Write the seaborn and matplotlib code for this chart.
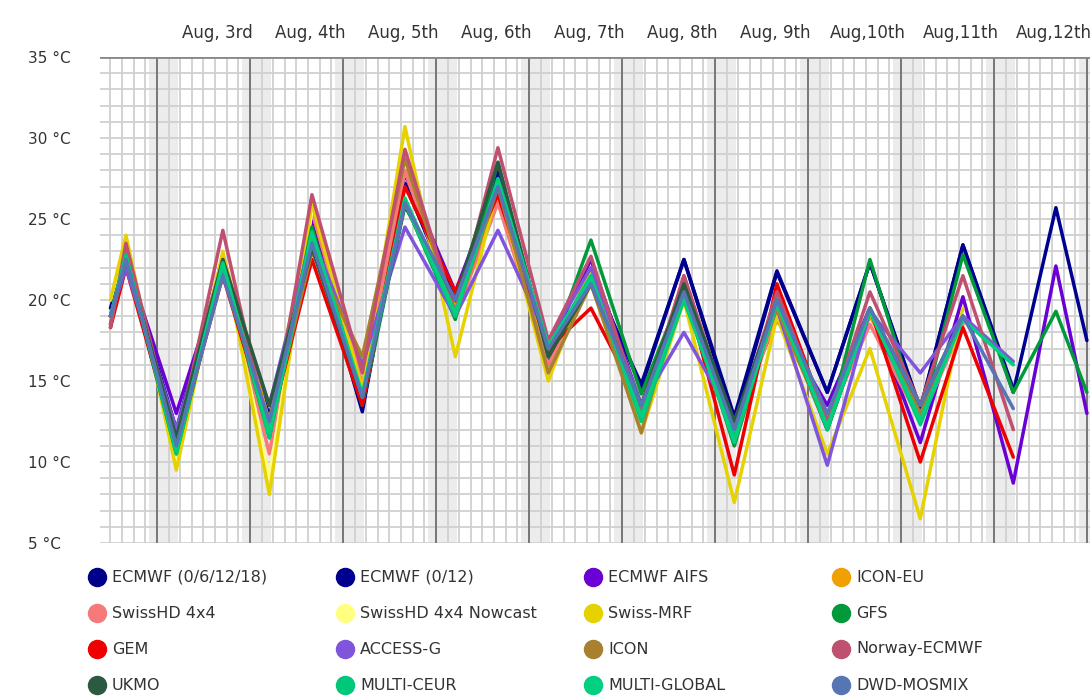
import numpy as np
import pandas as pd
import seaborn as sns
import matplotlib.pyplot as plt
from matplotlib.lines import Line2D

nan = np.nan
# hours relative to Aug 3rd 00:00
hours = [-12, -8, 5, 17, 29, 40, 53, 64, 77, 88, 101, 112, 125, 136, 149, 160, 173, 184, 197, 208, 221, 232, 240]

models = ["ECMWF (0/6/12/18)", "ECMWF (0/12)", "ECMWF AIFS", "ICON-EU",
          "SwissHD 4x4", "SwissHD 4x4 Nowcast", "Swiss-MRF", "GFS",
          "GEM", "ACCESS-G", "ICON", "Norway-ECMWF",
          "UKMO", "MULTI-CEUR", "MULTI-GLOBAL", "DWD-MOSMIX"]
colors = ["#00008b", "#000090", "#6a00d4", "#f0a000",
          "#f77a7a", "#ffff80", "#e6d200", "#009a3a",
          "#ee0000", "#8055dd", "#a88030", "#c05070",
          "#2a5a40", "#00c87a", "#00d080", "#5575b5"]

ecmwf_0_6_12_18 = [19.5, 22.5, 12, 22.5, 12.8, 24, 13.3, 27.2, 20, 27.8, 16.5, 21.5, 14.8, 22.5, 12.8, 21.8, 14.3, 22.3, 13.3, 23.4, 14.5, nan, nan]
ecmwf_0_12 = [19, 22.3, 11.8, 22.3, 12.5, 23.8, 13.1, 27.2, 19.8, 28, 16, 21.8, 14.6, 22.5, 12.5, 21.7, 14.3, 22.3, 13.2, 23.4, 14.3, 25.7, 17.5]
ecmwf_aifs = [19, 22.5, 13, 22, 11.8, 25, 14.5, 27.8, 20.5, 27.5, 17, 22.5, 13.5, 21, 12.5, 18.8, 13.5, 19.5, 11.2, 20.2, 8.7, 22.1, 13]
icon_eu = [18.3, 23, 11, 22.8, 12.5, 25.5, 14.5, 28, 19.5, 26.5, 16.5, 21.8, 13.5, 20, 12, 19, 12.5, 19, 13.5, 18.5, nan, nan, nan]
swisshd = [18.5, 22.5, 10.5, 22.5, 10.5, 25.5, 14.8, 28, 19, 26, 16, 21, 13, 20.5, 11, 19.5, 12.5, 18.5, 12.5, 18.5, nan, nan, nan]
swisshd_now = [20, 23.5, 10, 22.5, 9, 25.5, nan, nan, nan, nan, nan, nan, nan, nan, nan, nan, nan, nan, nan, nan, nan, nan, nan]
swiss_mrf = [20, 24, 9.5, 23, 8, 26, 14.5, 30.7, 16.5, 27, 15, 22, 11.8, 20, 7.5, 19, 10.5, 17, 6.5, 19.5, nan, nan, nan]
gfs = [18.5, 22.5, 10.5, 22, 11.5, 24.5, 13.5, 26, 18.8, 28.5, 16.5, 23.7, 14.2, 20.8, 11, 20, 12, 22.5, 12.5, 22.8, 14.3, 19.3, 14.3]
gem = [18.3, 22, 11, 21.5, 12, 22.5, 13.5, 27, 20.5, 26.5, 17, 19.5, 13.5, 21, 9.2, 21, 12.5, 19.5, 10, 18.3, 10.3, nan, nan]
access_g = [19, 22, 12, 22, 13.5, 24, 16, 24.5, 19, 24.3, 17.5, 22, 13.5, 18, 12.5, 19.5, 9.8, 19.3, 15.5, 19, 16.2, nan, nan]
icon = [18.5, 23, 11, 22.5, 12, 23, 16.5, 28.7, 19, 27, 15.5, 21, 11.8, 21.5, 12, 19.5, 12, 19.5, 13, 19, nan, nan, nan]
norway = [18.3, 23.5, 11, 24.3, 11.5, 26.5, 15.5, 29.3, 19.2, 29.4, 17.5, 22.7, 13, 21.5, 12, 20.5, 12.5, 20.5, 13.5, 21.5, 12, nan, nan]
ukmo = [19, 22.5, 11.5, 22.5, 13.5, 23.2, 14, 25.8, 20, 28.5, 16.5, 21, 13.5, 21, 12.5, 20, 12, 19.5, 13.5, 19, nan, nan, nan]
multi_ceur = [19, 22.8, 10.5, 22.3, 11.5, 24, 14, 26, 19, 27.5, 17, 21.5, 12.5, 20, 11.5, 20, 12, 19.5, 12.3, 19, nan, nan, nan]
multi_global = [19, 22.6, 10.8, 22.2, 11.8, 24.2, 14.2, 26.3, 19.2, 27.3, 17.2, 21.3, 12.8, 20.2, 11.2, 19.8, 12.2, 19.3, 12.6, 18.8, 16, nan, nan]
dwd_mosmix = [19, 22.5, 11, 21.5, 12.5, 23.5, 14, 26, 20, 27, 17, 21, 13.5, 20.5, 12, 20, 13, 19.5, 13.5, 19, 13.3, nan, nan]

series = [ecmwf_0_6_12_18, ecmwf_0_12, ecmwf_aifs, icon_eu, swisshd, swisshd_now, swiss_mrf, gfs,
          gem, access_g, icon, norway, ukmo, multi_ceur, multi_global, dwd_mosmix]
day_labels = ["Aug, 3rd", "Aug, 4th", "Aug, 5th", "Aug, 6th", "Aug, 7th", "Aug, 8th",
              "Aug, 9th", "Aug,10th", "Aug,11th", "Aug,12th"]

rows = []
for name, vals in zip(models, series):
    for h, v in zip(hours, vals):
        rows.append({"model": name, "hour": h, "temp": v})
df = pd.DataFrame(rows).dropna()

sns.set_style("white")
plt.rcParams['font.family'] = ['DejaVu Sans']
fig = plt.figure(figsize=(10.9, 6.97), dpi=100)
ax = fig.add_axes([100 / 1090, 154 / 697, 990 / 1090, 486 / 697])

x0, x1 = -14.7, 240.8
for k in range(-1, 11):
    m = 24 * k
    ax.axvspan(m - 2, m + 5.5, color="#ececec", lw=0, zorder=0)
for h in np.arange(-12, 241, 3):
    ax.axvline(h, color="#d0d0d0", lw=1.3, zorder=1)
for t in range(5, 36):
    ax.axhline(t, color="#d0d0d0", lw=1.3, zorder=1)
for k in range(0, 11):
    ax.axvline(24 * k, color="#777777", lw=1.4, zorder=1)
ax.axhline(35, color="#888888", lw=2, zorder=2)

sns.lineplot(data=df, x="hour", y="temp", hue="model", hue_order=models,
             palette=colors, lw=2.5, legend=False, ax=ax, zorder=3, sort=True)

ax.set_xlim(x0, x1)
ax.set_ylim(5, 35)
ax.set_yticks(range(5, 36, 5))
ax.set_yticklabels([f"{t} °C" for t in range(5, 36, 5)], fontsize=11, color="#333333")
ax.tick_params(axis="y", length=0, pad=52)
for lab in ax.get_yticklabels():
    lab.set_horizontalalignment("left")
ax.set_xticks([])
ax.set_xlabel("")
ax.set_ylabel("")
for s in ax.spines.values():
    s.set_visible(False)
for k, lab in enumerate(day_labels):
    ax.text(24 * k + 15.5, 35.9, lab, ha="center", va="bottom", fontsize=12, color="#333333")

# legend laid out row by row, 4 columns
for i, (name, c) in enumerate(zip(models, colors)):
    r, col = divmod(i, 4)
    xp = 97 + 248 * col
    yp = 577 + 36 * r
    fig.add_artist(Line2D([xp / 1090], [1 - yp / 697], marker="o", ms=13, ls="",
                          color=c, transform=fig.transFigure))
    fig.text((xp + 15) / 1090, 1 - yp / 697, name, va="center", ha="left",
             fontsize=11.5, color="#333333", fontweight="medium")

fig.savefig("out.png", dpi=100)
